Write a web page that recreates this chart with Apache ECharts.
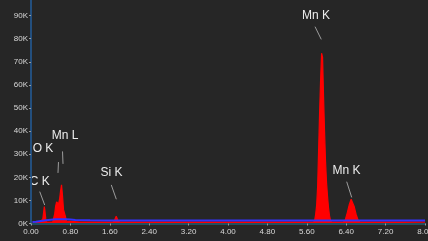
<!DOCTYPE html>
<html>
<head>
<meta charset="utf-8">
<script src="https://cdn.jsdelivr.net/npm/echarts@6/dist/echarts.min.js"></script>
<style>
html,body{margin:0;padding:0;background:#262626;}
#c{width:428px;height:241px;}
</style>
</head>
<body>
<div id="c"></div>
<script>
// Spectrum (energy keV, counts in K)
const spectrumEnergy = [0.00,0.06,0.12,0.18,0.22,0.24,0.26,0.27,0.28,0.30,0.32,0.36,0.44,0.46,0.48,0.50,0.52,0.54,0.56,0.58,0.60,0.62,0.64,0.66,0.68,0.70,0.72,0.76,1.00,1.40,1.66,1.70,1.73,1.76,1.80,2.40,3.20,4.00,4.80,5.60,5.74,5.76,5.78,5.80,5.82,5.84,5.86,5.88,5.90,5.92,5.94,5.96,5.98,6.00,6.02,6.04,6.06,6.08,6.10,6.34,6.38,6.42,6.46,6.50,6.52,6.56,6.60,6.64,6.68,7.20,8.00];
const spectrumCounts = [0.0,0.2,0.4,0.5,0.8,2.0,5.5,7.3,6.0,2.0,0.7,0.5,0.6,1.2,4.0,7.5,9.4,8.8,8.4,10.5,14.0,16.7,12.0,6.0,4.5,3.0,1.0,0.6,0.6,0.6,0.6,1.6,3.2,1.6,0.6,0.6,0.6,0.6,0.6,0.6,0.6,1.5,4.0,8.0,16.0,32.0,48.0,62.0,73.7,72.0,55.0,40.0,27.0,18.0,12.0,7.0,3.5,1.5,0.6,0.6,1.5,4.5,8.0,10.5,10.2,7.5,4.0,1.5,0.6,0.6,0.6];
// Background fit (energy keV, counts in K)
const bgEnergy = [0.03,0.10,0.20,0.30,0.40,0.50,0.60,0.70,0.80,0.90,1.20,1.60,2.40,3.20,4.00,4.80,5.60,6.40,7.20,8.00];
const bgCounts = [0.6,0.8,1.1,1.4,1.6,1.8,1.8,1.8,1.7,1.5,1.4,1.35,1.3,1.3,1.3,1.3,1.3,1.3,1.3,1.3];
// Peak annotations
const peakNames = ['C K','O K','Mn L','Si K','Mn K','Mn K'];
const peakLabelPos = [[0.177,18.1],[0.244,32.3],[0.690,37.9],[1.635,21.9],[5.787,90.0],[6.406,22.7]];
const peakLeaderFrom = [[0.177,13.8],[0.558,26.6],[0.640,31.2],[1.630,16.7],[5.767,85.2],[6.410,18.1]];
const peakLeaderTo = [[0.278,8.0],[0.548,21.9],[0.650,25.8],[1.732,10.5],[5.894,79.7],[6.512,11.3]];

const K = 1000;
const spec = spectrumEnergy.map((e,i)=>[e, spectrumCounts[i]*K]);
const bg = bgEnergy.map((e,i)=>[e, bgCounts[i]*K]);
const toData = p => [p[0], p[1]*K];

const chart = echarts.init(document.getElementById('c'), null, {renderer:'canvas'});
chart.setOption({
  backgroundColor:'#262626',
  animation:false,
  grid:{left:31,right:3,top:0,bottom:17.5,containLabel:false,outerBoundsMode:'none'},
  xAxis:{
    type:'value',min:0,max:8,interval:0.8,z:10,
    axisLine:{show:true,onZero:false,lineStyle:{color:'#1f4f60',width:2}},
    axisTick:{show:true,length:2,lineStyle:{color:'#9a9a9a'}},
    axisLabel:{color:'#d8d8d8',fontSize:8,fontFamily:'Liberation Sans, Arial',margin:4,
      formatter:v=>v.toFixed(2),showMaxLabel:true,hideOverlap:false},
    splitLine:{show:false}
  },
  yAxis:{
    type:'value',min:0,max:96.75*K,interval:10*K,z:10,
    axisLine:{show:true,lineStyle:{color:'#234f7e',width:2}},
    axisTick:{show:true,length:2,lineStyle:{color:'#9a9a9a'}},
    axisLabel:{color:'#d8d8d8',fontSize:8,fontFamily:'Liberation Sans, Arial',margin:3,
      showMaxLabel:false,formatter:v=>(v%(10*K)===0)?(v/K)+'K':''},
    splitLine:{show:false}
  },
  series:[
    {
      type:'line',data:spec,symbol:'none',smooth:false,z:2,
      lineStyle:{color:'#ff0000',width:1.2},
      areaStyle:{color:'#ff0000',opacity:1},
      markLine:{
        silent:true,symbol:['none','none'],animation:false,
        lineStyle:{color:'#9c9c9c',width:1,type:'solid'},
        label:{show:false},
        data:peakLeaderFrom.map((p,i)=>[{coord:toData(p)},{coord:toData(peakLeaderTo[i])}])
      },
      markPoint:{
        silent:true,symbol:'circle',symbolSize:0,animation:false,
        label:{show:true,position:'inside',color:'#ececec',fontSize:12,
          fontFamily:'Liberation Sans Narrow, Liberation Sans, Arial',formatter:'{b}'},
        data:peakNames.map((n,i)=>({name:n,coord:toData(peakLabelPos[i])}))
      }
    },
    {
      type:'line',data:bg,symbol:'none',smooth:false,z:3,
      lineStyle:{color:'#3232ff',width:2}
    }
  ]
});
</script>
</body>
</html>
